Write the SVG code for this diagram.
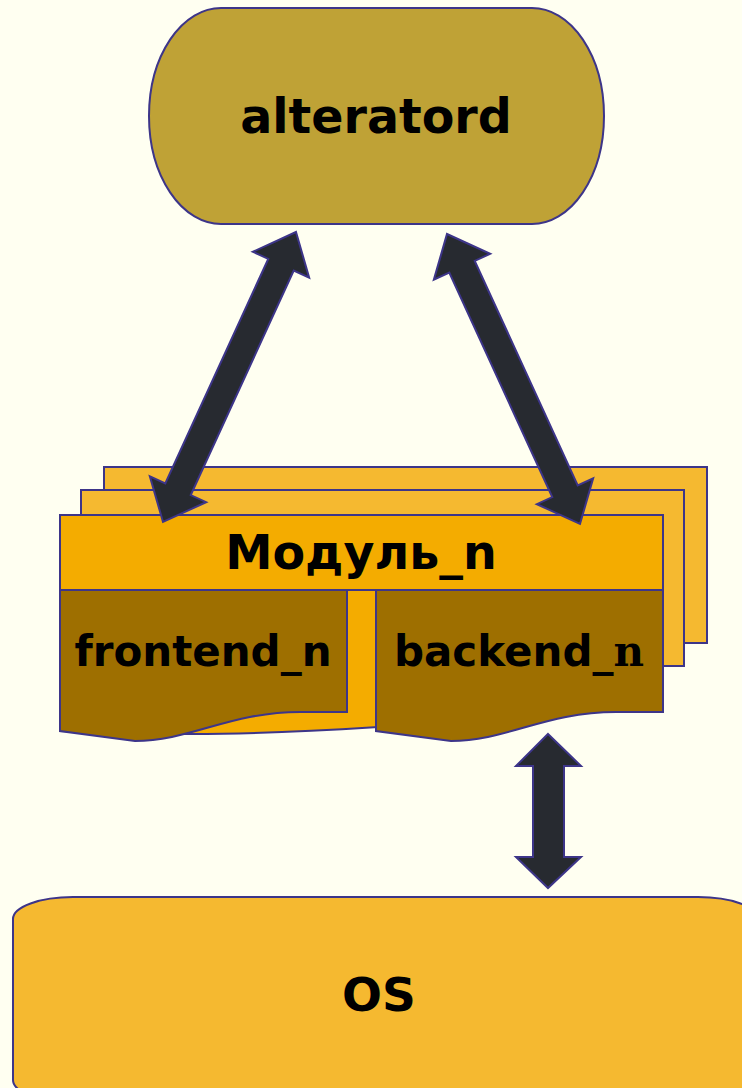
<svg xmlns="http://www.w3.org/2000/svg" width="742" height="1088" viewBox="0 0 742 1088">
<style>
.s{stroke:#3d3589;stroke-width:2}
.t{font-family:"DejaVu Sans",sans-serif;font-weight:bold;fill:#000;text-anchor:middle}
.ar{fill:#272a30;stroke:#3d3589;stroke-width:2;stroke-linejoin:miter}
</style>
<defs>
<polygon id="dbl" points="0,0 36,-31 36,-14 283,-14 283,-31 319,0 283,31 283,14 36,14 36,31"/>
</defs>
<rect width="742" height="1088" fill="#fffff1"/>
<g id="alteratord">
<rect class="s" x="149" y="8" width="455" height="216" rx="72" ry="108" fill="#bfa236"/>
<text class="t" x="376" y="133" font-size="47.5">alteratord</text>
</g>
<g id="module">
<rect class="s" x="104" y="467" width="603" height="176" fill="#f5b930"/>
<rect class="s" x="81" y="490" width="603" height="176" fill="#f5b930"/>
<path class="s" d="M60,515 H663 V705 C520,716 330,735 180,734 L60,731 Z" fill="#f4ac00"/>
<line class="s" x1="60" y1="590" x2="663" y2="590"/>
<text class="t" x="361" y="569" font-size="47.5">Модуль_n</text>
</g>
<g id="frontend">
<path class="s" d="M60,590 H347 V712 H300 C230,712 190,741 135,741 L60,731 Z" fill="#9e6f00"/>
<text class="t" x="203" y="666" font-size="42">frontend_n</text>
</g>
<g id="backend">
<path class="s" d="M376,590 H663 V712 H616 C546,712 506,741 451,741 L376,731 Z" fill="#9e6f00"/>
<text class="t" x="519" y="666" font-size="42">backend_<tspan font-family="DejaVu Serif,serif">n</tspan></text>
</g>
<g id="os">
<rect class="s" x="13" y="897" width="745" height="205" rx="60" ry="22" fill="#f5b930"/>
<text class="t" x="379" y="1011" font-size="47">OS</text>
</g>
<g id="connectors">
<use href="#dbl" class="ar" transform="translate(296,232) rotate(114.64)"/>
<use href="#dbl" class="ar" transform="translate(447,234) rotate(65.36)"/>
<polygon class="ar" points="548,734 581,766 564,766 564,857 581,857 548,888 516,857 533,857 533,766 516,766"/>
</g>
</svg>
